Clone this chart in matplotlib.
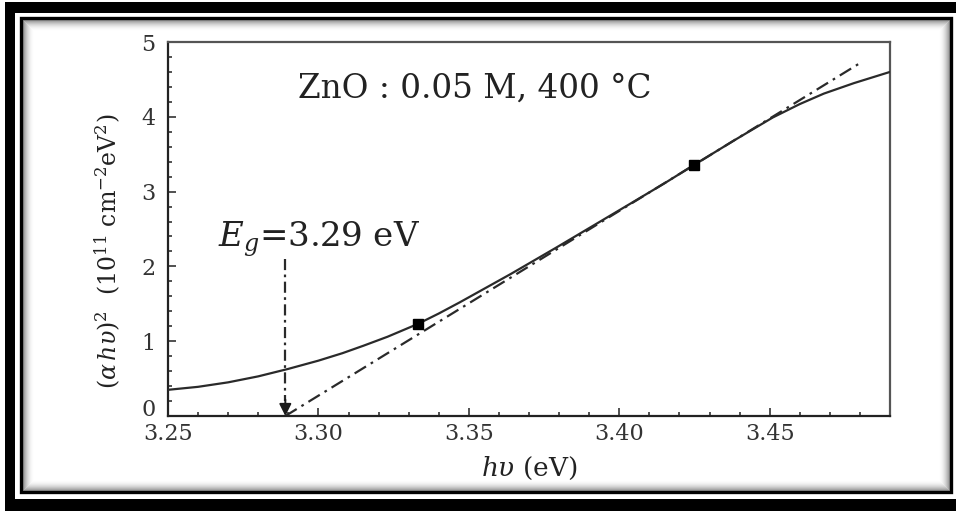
import matplotlib
matplotlib.use('Agg')
import matplotlib.pyplot as plt
import matplotlib.transforms as mtransforms
from matplotlib.patches import Rectangle
from matplotlib.ticker import MultipleLocator, FormatStrFormatter, FuncFormatter

# (alpha h nu)^2 curve
hv = [3.250, 3.260, 3.270, 3.280, 3.290, 3.300, 3.308, 3.315, 3.323, 3.333,
      3.340, 3.347, 3.364, 3.379, 3.392, 3.405, 3.415, 3.425, 3.438, 3.451,
      3.460, 3.468, 3.478, 3.490]
ahv2 = [0.35, 0.39, 0.45, 0.53, 0.63, 0.74, 0.84, 0.94, 1.06, 1.23,
        1.37, 1.52, 1.90, 2.25, 2.56, 2.87, 3.11, 3.36, 3.68, 3.99,
        4.17, 4.31, 4.45, 4.60]

# the two square markers that bound the linear fit
fit_hv = [3.333, 3.425]
fit_ahv2 = [1.23, 3.36]

# extrapolated straight line
line_hv = [3.289, 3.4797]
line_ahv2 = [0.0, 4.71]

eg = 3.289
eg_top = 2.1

W, H = 956, 511
plt.rcParams['font.family'] = ['DejaVu Serif']
plt.rcParams['mathtext.fontset'] = 'dejavuserif'

fig = plt.figure(figsize=(W / 100, H / 100), dpi=100)
fig.patch.set_facecolor('white')


def px_rect(x0, y0, x1, y1, **kw):
    # pixel box (y from top) -> figure fraction rectangle
    r = Rectangle((x0 / W, 1 - y1 / H), (x1 - x0) / W, (y1 - y0) / H,
                  transform=fig.transFigure, **kw)
    fig.patches.append(r)
    return r


# outer black frame (cut on the right side)
px_rect(5, 2, W, 13, facecolor='black', edgecolor='none')
px_rect(5, 2, 15, H, facecolor='black', edgecolor='none')
px_rect(5, 499, W, H, facecolor='black', edgecolor='none')
# inner shadow
for i in range(12):
    a = 0.5 * (1 - i / 12) ** 2
    px_rect(22 + i, 19 + i, 950 - i, 491 - i, facecolor='none',
            edgecolor=(0, 0, 0, a), linewidth=0.72)
# inner thin frame line
px_rect(21, 18, 951, 492, facecolor='none', edgecolor='black', linewidth=2.4)

ax = fig.add_axes([168 / W, 1 - 416 / H, (890 - 168) / W, (416 - 42) / H])
ax.set_facecolor('white')

ax.plot(hv, ahv2, color='#2a2a2a', lw=1.6, zorder=3)
ax.plot(line_hv, line_ahv2, color='#2a2a2a', lw=1.6,
        linestyle=(0, (6, 2.5, 1.2, 2.5)), zorder=2)
ax.plot(fit_hv, fit_ahv2, 's', color='black', markersize=7, zorder=4)

# arrow marking the band gap
ax.plot([eg, eg], [eg_top, 0.2], color='#2a2a2a', lw=1.6,
        linestyle=(0, (5, 2, 1.2, 2)))
ax.annotate('', xy=(eg, 0.0), xytext=(eg, 0.22),
            arrowprops=dict(arrowstyle='-|>', color='#1a1a1a', lw=1.4,
                            mutation_scale=18, shrinkA=0, shrinkB=0))

ax.text(3.2932, 4.25, 'ZnO : 0.05 M, 400 °C', fontsize=23.5, color='#222222',
        ha='left', va='baseline')
ax.text(3.2666, 2.26, r'$E_g$=3.29 eV', fontsize=24.5, color='#222222',
        ha='left', va='baseline')

ax.set_xlim(3.25, 3.49)
ax.set_ylim(0, 5)
ax.xaxis.set_major_locator(MultipleLocator(0.05))
ax.xaxis.set_minor_locator(MultipleLocator(0.01))
ax.xaxis.set_major_formatter(FormatStrFormatter('%.2f'))
ax.yaxis.set_major_locator(MultipleLocator(1))
ax.yaxis.set_minor_locator(MultipleLocator(0.2))
# the "0" is drawn separately, sitting just above the x labels
ax.yaxis.set_major_formatter(FuncFormatter(lambda v, p: '' if v == 0 else '%d' % v))
ax.tick_params(which='both', direction='in', colors='#333333',
               labelsize=16, width=1.2)
ax.tick_params(which='major', length=6)
ax.tick_params(which='minor', length=3)
ax.tick_params(axis='x', pad=5)
ax.tick_params(axis='y', pad=9)

zero_tr = ax.transAxes + mtransforms.ScaledTranslation(-9 / 72, 0, fig.dpi_scale_trans)
ax.text(0, 0, '0', transform=zero_tr, fontsize=16, color='#333333',
        ha='right', va='baseline')

for s in ['left', 'bottom']:
    ax.spines[s].set_color('#222222')
    ax.spines[s].set_linewidth(1.6)
for s in ['top', 'right']:
    ax.spines[s].set_color('#555555')
    ax.spines[s].set_linewidth(1.6)

ax.set_xlabel(r'$h\upsilon$ (eV)', fontsize=19, color='#222222')
ax.xaxis.set_label_coords(0.5, -0.105)
ax.set_ylabel(r'$(\alpha\,h\upsilon)^2$  (10$^{11}$ cm$^{-2}$eV$^2$)',
              fontsize=17, color='#222222')
ax.yaxis.set_label_coords(-0.062, 0.44)

fig.savefig('out.png', dpi=100)
